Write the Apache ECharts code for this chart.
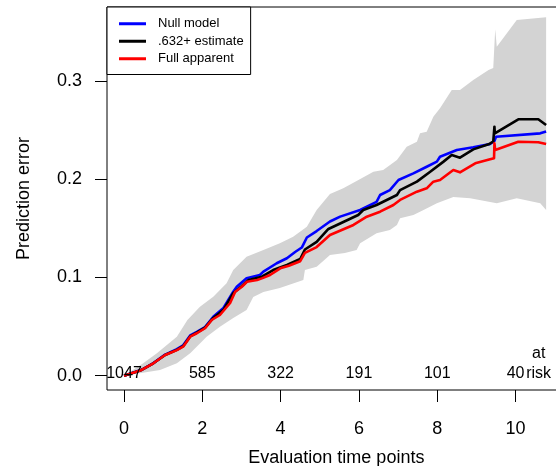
<!DOCTYPE html>
<html><head><meta charset="utf-8">
<script src="https://cdn.jsdelivr.net/npm/echarts@6/dist/echarts.min.js"></script>
<style>html,body{margin:0;padding:0;background:#fff}#c{width:556px;height:466px}</style>
</head><body><div id="c"></div>
<script>
const xTicks = [0, 2, 4, 6, 8, 10];
const yTicks = [0, 0.1, 0.2, 0.3];
const seriesNames = ['Null model', '.632+ estimate', 'Full apparent'];
const atRiskX = [0, 2, 4, 6, 8, 10];
const atRiskN = ['1047', '585', '322', '191', '101', '40'];

const nullModel = [[0,0],[0.45,0.006],[0.75,0.0128],[1.05,0.0215],[1.35,0.027],[1.51,0.031],[1.69,0.041],[1.86,0.0445],[2.07,0.0495],[2.28,0.060],[2.54,0.069],[2.79,0.0855],[2.88,0.0906],[3.13,0.0992],[3.47,0.1025],[3.56,0.106],[3.90,0.1145],[4.16,0.1196],[4.37,0.126],[4.54,0.1305],[4.67,0.1407],[4.92,0.1473],[5.26,0.157],[5.52,0.162],[6.03,0.1687],[6.45,0.177],[6.54,0.184],[6.79,0.189],[7.01,0.1993],[7.39,0.206],[7.73,0.2128],[7.99,0.218],[8.07,0.223],[8.50,0.2298],[8.92,0.2326],[9.35,0.236],[9.46,0.239],[9.50,0.2434],[10.63,0.2468],[10.78,0.2487]];

const estimate632 = [[0,0],[0.45,0.0058],[0.75,0.0126],[1.05,0.021],[1.35,0.0263],[1.51,0.030],[1.69,0.040],[1.86,0.0438],[2.07,0.049],[2.28,0.0588],[2.54,0.067],[2.79,0.084],[3.01,0.0913],[3.18,0.0975],[3.52,0.1008],[3.81,0.1076],[4.16,0.1127],[4.50,0.1188],[4.62,0.1285],[4.92,0.1362],[5.22,0.1494],[5.52,0.155],[5.98,0.1636],[6.11,0.1687],[6.45,0.1738],[6.97,0.184],[7.05,0.189],[7.48,0.1976],[7.82,0.2077],[8.16,0.218],[8.37,0.2247],[8.58,0.222],[8.92,0.2305],[9.31,0.2356],[9.43,0.2385],[9.46,0.2536],[9.47,0.2468],[10.07,0.2611],[10.58,0.2611],[10.78,0.2553]];

const fullApparent = [[0,0],[0.45,0.0058],[0.75,0.0126],[1.05,0.021],[1.35,0.026],[1.51,0.0295],[1.69,0.0397],[1.86,0.0432],[2.07,0.0483],[2.24,0.0567],[2.45,0.0618],[2.71,0.074],[2.84,0.0854],[3.01,0.0906],[3.14,0.0957],[3.40,0.0974],[3.52,0.0991],[3.73,0.1025],[3.99,0.1093],[4.21,0.112],[4.50,0.1166],[4.62,0.125],[4.92,0.131],[5.26,0.1433],[5.86,0.1535],[6.20,0.1619],[6.54,0.167],[6.88,0.1738],[7.05,0.179],[7.48,0.1874],[7.73,0.1908],[7.90,0.1976],[8.07,0.1993],[8.41,0.2095],[8.58,0.2071],[8.97,0.2163],[9.35,0.2204],[9.45,0.2215],[9.46,0.2366],[9.48,0.2298],[10.07,0.2383],[10.58,0.2377],[10.78,0.2359]];

const bandUpper = [[0,0],[0.49,0.0126],[0.84,0.0228],[1.35,0.0397],[1.62,0.0567],[1.94,0.0703],[2.28,0.0804],[2.62,0.0941],[2.79,0.1076],[3.13,0.1212],[3.56,0.128],[3.98,0.1348],[4.32,0.1415],[4.67,0.1517],[4.92,0.1687],[5.26,0.185],[5.60,0.1908],[5.94,0.1983],[6.37,0.2077],[6.62,0.2095],[6.97,0.2197],[7.22,0.2332],[7.48,0.2383],[7.56,0.2468],[7.73,0.2485],[7.90,0.2637],[8.07,0.2723],[8.37,0.2909],[8.58,0.2909],[8.92,0.3011],[9.31,0.3113],[9.43,0.3133],[9.48,0.3528],[9.52,0.335],[10.03,0.3622],[10.78,0.365]];

const bandLower = [[0,0],[0.92,0.0058],[1.35,0.0126],[1.69,0.0228],[2.11,0.0397],[2.45,0.0499],[2.79,0.0588],[3.13,0.0669],[3.30,0.0801],[3.56,0.0852],[3.98,0.0893],[4.58,0.0975],[4.62,0.1076],[4.92,0.111],[5.26,0.1229],[5.64,0.125],[5.94,0.128],[6.03,0.1348],[6.45,0.145],[6.79,0.1484],[6.97,0.1535],[7.05,0.1603],[7.39,0.1636],[7.65,0.1687],[7.99,0.1756],[8.41,0.182],[8.84,0.1807],[9.52,0.1756],[10.03,0.1807],[10.63,0.1756],[10.78,0.1687]];

const FONT = "'Liberation Sans', Arial, Helvetica, sans-serif";
const chart = echarts.init(document.getElementById('c'), null, {renderer: 'canvas'});

const lineSeries = (name, data, color, z) => ({
  name, type: 'line', data, symbol: 'none', showSymbol: false, z,
  lineStyle: {color, width: 2.6, join: 'round'}, itemStyle: {color},
  animation: false, silent: true
});

const textSeries = (data) => ({
  type: 'scatter', z: 8, silent: true, symbolSize: 0,
  itemStyle: {opacity: 1, color: '#000'},
  data,
  label: {show: true, position: 'inside', formatter: p => p.data[2],
          fontSize: 16, color: '#000', opacity: 1, fontFamily: FONT}
});

chart.setOption({
  animation: false,
  backgroundColor: '#fff',
  grid: {left: 107, top: 7, width: 458.7, height: 383, show: true,
         borderColor: '#000', borderWidth: 1, backgroundColor: 'transparent',
         containLabel: false, outerBoundsMode: 'none'},
  legend: {
    orient: 'vertical', left: 107, top: 7, padding: [8, 7, 7, 12],
    itemWidth: 27, itemHeight: 3, itemGap: 0, icon: 'rect',
    borderColor: '#000', borderWidth: 1, backgroundColor: '#fff',
    textStyle: {fontSize: 13, lineHeight: 17.5, color: '#000', fontFamily: FONT, padding: [0,0,0,7]},
    data: seriesNames, z: 10, selectedMode: false
  },
  xAxis: {
    type: 'value', min: -0.434, max: 11.28,
    axisLine: {show: false, onZero: false},
    splitLine: {show: false},
    axisTick: {show: true, length: 12, customValues: xTicks, lineStyle: {color: '#000', width: 1}},
    axisLabel: {customValues: xTicks, fontSize: 18, color: '#000', fontFamily: FONT, margin: 30},
    name: 'Evaluation time points', nameLocation: 'middle', nameGap: 59,
    nameTextStyle: {fontSize: 18, color: '#000', fontFamily: FONT}
  },
  yAxis: {
    type: 'value', min: -0.0146, max: 0.3755,
    axisLine: {show: false, onZero: false},
    splitLine: {show: false},
    axisTick: {show: true, length: 12, customValues: yTicks, lineStyle: {color: '#000', width: 1}},
    axisLabel: {customValues: yTicks, fontSize: 18, color: '#000', fontFamily: FONT, margin: 25,
                formatter: v => v.toFixed(1)},
    name: 'Prediction error', nameLocation: 'middle', nameGap: 74,
    nameTextStyle: {fontSize: 18, color: '#000', fontFamily: FONT}
  },
  series: [
    {
      type: 'custom', z: 1, silent: true, clip: true, data: [[0, 0]],
      renderItem: (params, api) => {
        const pts = bandUpper.map(p => api.coord(p))
          .concat(bandLower.slice().reverse().map(p => api.coord(p)));
        return {type: 'polygon', shape: {points: pts}, style: {fill: '#d3d3d3'}};
      }
    },
    lineSeries(seriesNames[0], nullModel, '#0000ff', 3),
    lineSeries(seriesNames[1], estimate632, '#000000', 4),
    lineSeries(seriesNames[2], fullApparent, '#ff0000', 5),
    textSeries(atRiskX.map((x, i) => [x, 0.0024, atRiskN[i]])),
    textSeries([[10.59, 0.0024, 'risk'], [10.59, 0.0227, 'at']])
  ]
});
</script>
</body></html>
